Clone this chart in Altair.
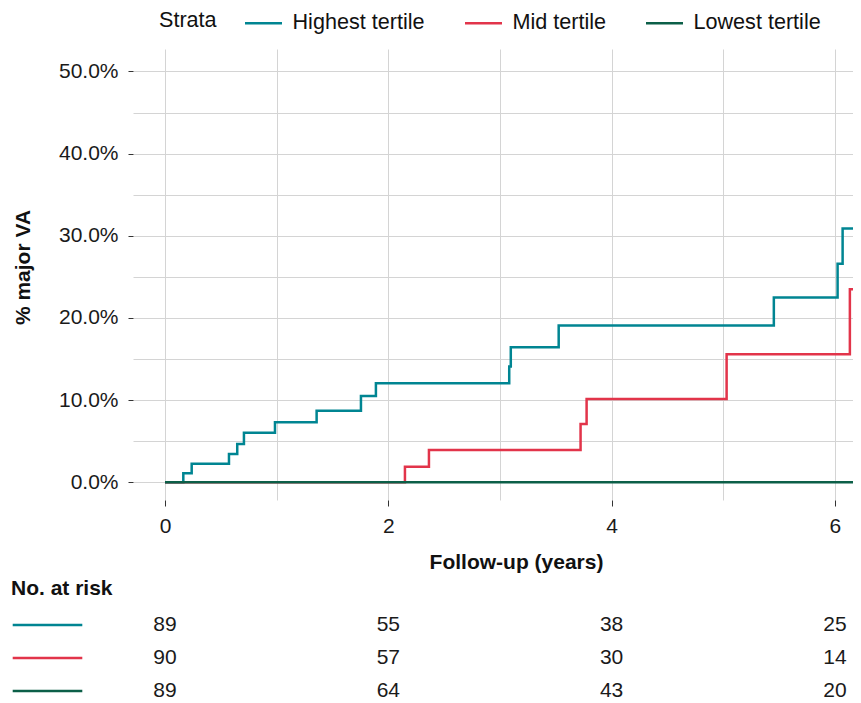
import altair as alt
import pandas as pd

FONT = "Liberation Sans"

strata = ["Highest tertile", "Mid tertile", "Lowest tertile"]
colors = ["#008592", "#E2344A", "#0C5F48"]

# Cumulative incidence (%) step curves
hi_time = [0, 0.164, 0.239, 0.573, 0.647, 0.707, 0.985, 1.358, 1.755, 1.889,
           3.083, 3.097, 3.526, 5.453, 6.024, 6.069, 6.40]
hi_pct = [0, 1.12, 2.25, 3.45, 4.66, 6.04, 7.31, 8.72, 10.5, 12.06,
          14.08, 16.45, 19.07, 22.5, 26.6, 30.9, 30.9]

mid_time = [0, 2.149, 2.364, 3.722, 3.776, 5.03, 6.134, 6.40]
mid_pct = [0, 1.9, 3.93, 7.1, 10.15, 15.6, 23.5, 23.5]

low_time = [0, 6.40]
low_pct = [0, 0]

# Number at risk table
risk_times = [0, 2, 4, 6]
risk_hi = [89, 55, 38, 25]
risk_mid = [90, 57, 30, 14]
risk_low = [89, 64, 43, 20]

rows = []
for name, ts, ps in zip(strata, [hi_time, mid_time, low_time], [hi_pct, mid_pct, low_pct]):
    for t, p in zip(ts, ps):
        rows.append({"strata": name, "time": t, "frac": p / 100.0})
curves = pd.DataFrame(rows)

rrows = []
for name, ns in zip(strata, [risk_hi, risk_mid, risk_low]):
    for t, n in zip(risk_times, ns):
        rrows.append({"strata": name, "time": t, "n": n})
risk = pd.DataFrame(rrows)

W, H = 720, 451
x_dom = [-0.2866, 6.162]
y_dom = [-0.0215, 0.5273]

color_scale = alt.Scale(domain=strata, range=colors)

x_axis = alt.Axis(
    values=[0, 1, 2, 3, 4, 5, 6],
    labelExpr="datum.value % 2 == 0 ? datum.label : ''",
    format="d",
    title="Follow-up (years)",
    titleFontSize=21, titleFontWeight="bold", titleColor="#111111",
    titleX=383, titleY=68.3, titleBaseline="alphabetic",
    labelFontSize=21, labelColor="#1a1a1a", labelPadding=9,
    tickSize=6, tickColor="#333333", tickWidth=1,
    tickOpacity={"condition": {"test": "datum.value % 2 != 0", "value": 0}, "value": 1},
    grid=True, gridColor="#d4d4d4", gridWidth=1,
    domain=False,
)
y_axis = alt.Axis(
    values=[i * 0.05 for i in range(11)],
    labelExpr="round(datum.value*100) % 10 == 0 ? format(datum.value, '.1%') : ''",
    title="% major VA",
    titleFontSize=21, titleFontWeight="bold", titleColor="#111111",
    titleX=-103.5, titleY=218, titleBaseline="alphabetic", titleAlign="center",
    labelFontSize=21, labelColor="#1a1a1a", labelPadding=10,
    tickSize=5, tickColor="#333333", tickWidth=1,
    tickOpacity={"condition": {"test": "round(datum.value*100) % 10 != 0", "value": 0}, "value": 1},
    grid=True, gridColor="#d4d4d4", gridWidth=1,
    domain=False,
)
legend = alt.Legend(
    orient="none", legendX=26, legendY=-46, direction="horizontal",
    title="Strata", titleOrient="left", titleFontSize=21.6, titleFontWeight="normal",
    titleColor="#111111", titlePadding=26.5, titleBaseline="line-top", titleLineHeight=6,
    labelFontSize=21.6, labelColor="#111111", labelOffset=9,
    symbolType="stroke", symbolSize=1369, symbolStrokeWidth=2.5,
    columnPadding=34,
)

layers = []
for s in strata:
    layers.append(
        alt.Chart(curves)
        .transform_filter(alt.datum.strata == s)
        .mark_line(interpolate="step-after", strokeWidth=2.5, clip=True)
        .encode(
            x=alt.X("time:Q", scale=alt.Scale(domain=x_dom, nice=False, zero=False), axis=x_axis),
            y=alt.Y("frac:Q", scale=alt.Scale(domain=y_dom, nice=False, zero=False), axis=y_axis),
            color=alt.Color("strata:N", scale=color_scale, legend=legend),
        )
    )
top = alt.layer(*layers).properties(width=W, height=H)

row_scale = alt.Scale(domain=strata, type="point", padding=0)

rules = alt.Chart(pd.DataFrame({"strata": strata})).mark_rule(strokeWidth=2.5).encode(
    x=alt.value(-120.3), x2=alt.value(-50.7),
    y=alt.Y("strata:N", scale=row_scale, axis=None),
    color=alt.Color("strata:N", scale=color_scale, legend=None),
)
nums = alt.Chart(risk).mark_text(
    fontSize=21, font=FONT, color="#1a1a1a", baseline="middle", align="center"
).encode(
    x=alt.X("time:Q", scale=alt.Scale(domain=x_dom, nice=False, zero=False), axis=None),
    y=alt.Y("strata:N", scale=row_scale, axis=None),
    text="n:Q",
)
risk_title = alt.Chart(pd.DataFrame({"k": [0]})).mark_text(
    text="No. at risk", fontSize=21, fontWeight="bold", font=FONT, color="#111111",
    align="left", baseline="alphabetic",
).encode(x=alt.value(-122), y=alt.value(-30.5))

bottom = alt.layer(rules, nums, risk_title).properties(width=W, height=66)

chart = (
    alt.vconcat(top, bottom, spacing=125, bounds="flush")
    .resolve_scale(color="independent", x="independent", y="independent")
    .properties(padding={"left": 3, "top": -5, "right": 0, "bottom": 0}, background="white")
    .configure(font=FONT)
    .configure_view(strokeWidth=0)
)

chart.save("out.html", embed_options={"renderer": "svg", "actions": False})
